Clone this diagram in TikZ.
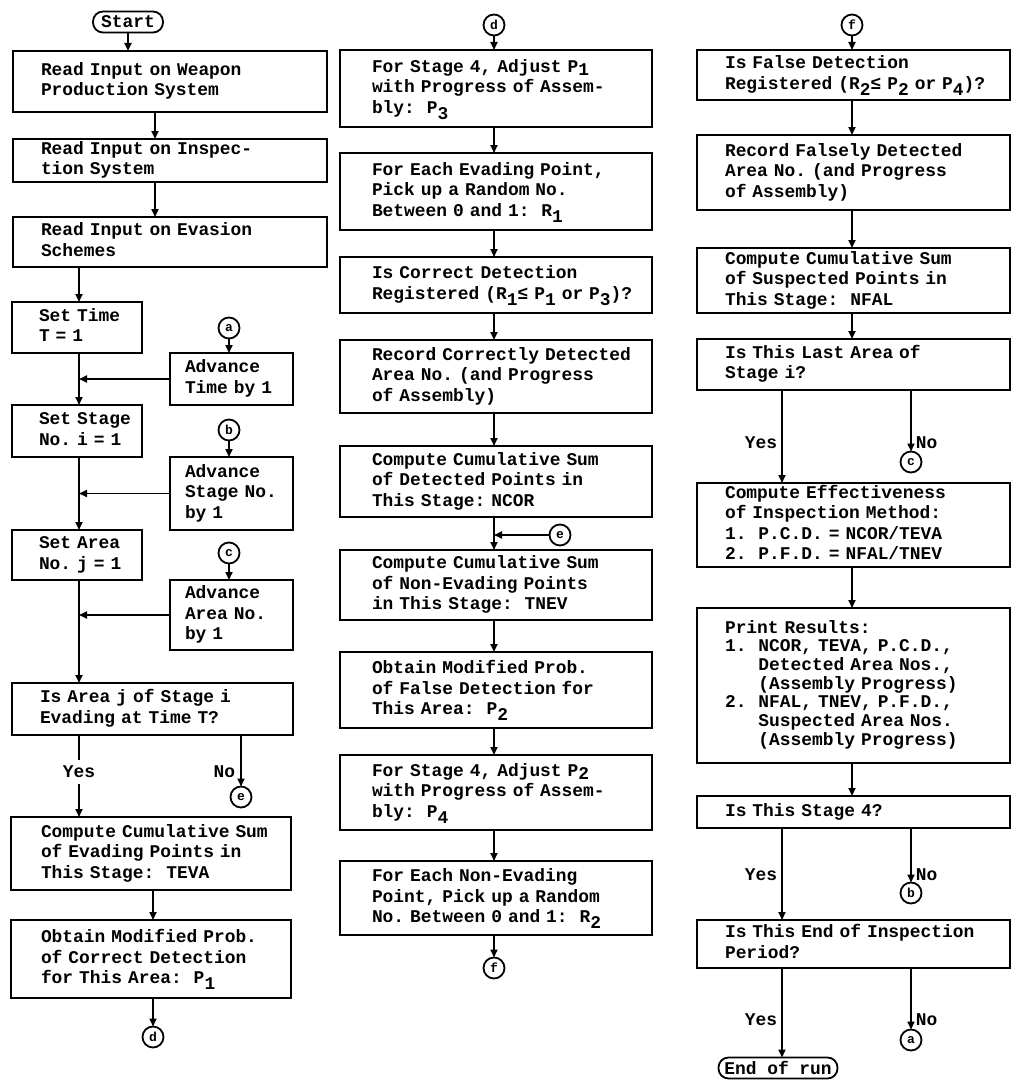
\documentclass[tikz,border=0pt]{standalone}
\usepackage{fontspec}
\setmainfont{Liberation Mono}
\usetikzlibrary{arrows.meta}
\frenchspacing
\newcommand\sbx[1]{\raisebox{-6pt}[0pt][0pt]{#1}}
\newcommand\sbh[1]{\raisebox{-3pt}[0pt][0pt]{#1}}
\newcommand\tb[1]{\begin{tabular}{@{}l@{}}#1\end{tabular}}
\newcommand\tabind{\phantom{1.\ \ }}
\begin{document}
\begin{tikzpicture}[x=1pt,y=-1pt,line width=1.8pt,
  txt/.style={font=\bfseries\fontsize{17.9}{20.5}\selectfont},
  bx/.style={txt,draw,rectangle,anchor=north west,inner ysep=0pt,outer sep=0pt,align=left},
  wl/.style={minimum width=314pt,text width=258pt,inner xsep=28pt},
  ws/.style={minimum width=130pt,text width=76pt,inner xsep=27pt},
  wa/.style={minimum width=123pt,text width=93pt,inner xsep=15pt},
  wi/.style={minimum width=281pt,text width=225pt,inner xsep=28pt},
  wt/.style={minimum width=280pt,text width=220pt,inner xsep=30pt},
  wm/.style={minimum width=312pt,text width=248pt,inner xsep=32pt},
  wr/.style={minimum width=313pt,text width=257pt,inner xsep=28pt},
  cn/.style={draw,circle,minimum size=21pt,inner sep=0pt,outer sep=0pt,font=\bfseries\fontsize{13}{13}\selectfont},
  term/.style={txt,draw,rectangle,rounded corners=10pt,inner sep=0pt,outer sep=0pt},
  arr/.style={-{Triangle[length=8pt,width=7pt]}},
  lbl/.style={txt,inner sep=1pt}]
\useasboundingbox (0,0) rectangle (1013,1081);
% guide x coordinates
\coordinate (xa) at (155,0);
\coordinate (xb) at (79,0);
\coordinate (xc) at (153,0);
\coordinate (xm) at (494,0);
\coordinate (xr) at (852,0);
\coordinate (xy) at (782,0);
\coordinate (xn) at (911,0);
% ---------- left column ----------
\node[term,minimum width=70pt,minimum height=21pt] (start) at (128,22) {Start};
\node[bx,wl,minimum height=61pt] (b1) at (13,51) {\tb{Read Input on Weapon\\Production System}};
\node[bx,wl,minimum height=43pt] (b2) at (13,139) {\tb{Read Input on Inspec-\\tion System}};
\node[bx,wl,minimum height=50pt] (b3) at (13,217) {\tb{Read Input on Evasion\\Schemes}};
\node[bx,ws,minimum height=51pt] (st) at (12,302) {\tb{Set Time\\T = 1}};
\node[cn] (ca) at (229,328) {a};
\node[bx,wa,minimum height=52pt] (at) at (170,353) {\tb{Advance\\Time by 1}};
\node[bx,ws,minimum height=52pt] (ss) at (12,405) {\tb{Set Stage\\No. i = 1}};
\node[cn] (cb) at (229,430) {b};
\node[bx,wa,minimum height=73pt] (as) at (170,457) {\tb{Advance\\Stage No.\\by 1}};
\node[bx,ws,minimum height=50pt] (sa) at (12,530) {\tb{Set Area\\No. j = 1}};
\node[cn] (cc) at (229,553) {c};
\node[bx,wa,minimum height=70pt] (aa) at (170,580) {\tb{Advance\\Area No.\\by 1}};
\node[bx,wi,minimum height=52pt] (ia) at (12,683) {\tb{Is Area j of Stage i\\Evading at Time T?}};
\node[cn] (ce) at (241,797) {e};
\node[bx,wt,minimum height=73pt] (teva) at (11,817) {\tb{Compute Cumulative Sum\\of Evading Points in\\This Stage:\ \ TEVA}};
\node[bx,wt,minimum height=78pt] (ob) at (11,920) {\tb{Obtain Modified Prob.\\of Correct Detection\\for This Area:\ \ P\sbx{1}}};
\node[cn] (cd) at (153,1037) {d};
% ---------- middle column ----------
\node[cn] (cd2) at (494,25) {d};
\node[bx,wm,minimum height=77pt] (m1) at (340,50) {\tb{For Stage 4, Adjust P\sbh{1}\\with Progress of Assem-\\bly:\ \ P\sbx{3}}};
\node[bx,wm,minimum height=77pt] (m2) at (340,153) {\tb{For Each Evading Point,\\Pick up a Random No.\\Between 0 and 1:\ \ R\sbx{1}}};
\node[bx,wm,minimum height=56pt] (m3) at (340,257) {\tb{Is Correct Detection\\Registered (R\sbx{1}≤ P\sbx{1} or P\sbx{3})?}};
\node[bx,wm,minimum height=73pt] (m4) at (340,340) {\tb{Record Correctly Detected\\Area No. (and Progress\\of Assembly)}};
\node[bx,wm,minimum height=71pt] (m5) at (340,446) {\tb{Compute Cumulative Sum\\of Detected Points in\\This Stage: NCOR}};
\node[cn] (ce2) at (560,535) {e};
\node[bx,wm,minimum height=70pt] (m6) at (340,550) {\tb{Compute Cumulative Sum\\of Non-Evading Points\\in This Stage:\ \ TNEV}};
\node[bx,wm,minimum height=76pt] (m7) at (340,652) {\tb{Obtain Modified Prob.\\of False Detection for\\This Area:\ \ P\sbx{2}}};
\node[bx,wm,minimum height=75pt] (m8) at (340,755) {\tb{For Stage 4, Adjust P\sbh{2}\\with Progress of Assem-\\bly:\ \ P\sbx{4}}};
\node[bx,wm,minimum height=74pt] (m9) at (340,861) {\tb{For Each Non-Evading\\Point, Pick up a Random\\No. Between 0 and 1:\ \ R\sbx{2}}};
\node[cn] (cf) at (494,968) {f};
% ---------- right column ----------
\node[cn] (cf2) at (852,25) {f};
\node[bx,wr,minimum height=50pt] (r1) at (697,50) {\tb{Is False Detection\\Registered (R\sbx{2}≤ P\sbx{2} or P\sbx{4})?}};
\node[bx,wr,minimum height=75pt] (r2) at (697,135) {\tb{Record Falsely Detected\\Area No. (and Progress\\of Assembly)}};
\node[bx,wr,minimum height=65pt] (r3) at (697,248) {\tb{Compute Cumulative Sum\\of Suspected Points in\\This Stage:\ \ NFAL}};
\node[bx,wr,minimum height=51pt] (r4) at (697,339) {\tb{Is This Last Area of\\Stage i?}};
\node[cn] (cc2) at (911,462) {c};
\node[bx,wr,minimum height=84pt] (r5) at (697,483) {\tb{Compute Effectiveness\\of Inspection Method:\\1.\ \ P.C.D. = NCOR/TEVA\\2.\ \ P.F.D. = NFAL/TNEV}};
\node[bx,wr,minimum height=155pt] (r6) at (697,608) {\renewcommand\arraystretch{0.91}\tb{Print Results:\\1.\ \ NCOR, TEVA, P.C.D.,\\\tabind Detected Area Nos.,\\\tabind (Assembly Progress)\\2.\ \ NFAL, TNEV, P.F.D.,\\\tabind Suspected Area Nos.\\\tabind (Assembly Progress)}};
\node[bx,wr,minimum height=32pt] (r7) at (697,796) {\tb{Is This Stage 4?}};
\node[cn] (cb2) at (911,893) {b};
\node[bx,wr,minimum height=48pt] (r8) at (697,920) {\tb{Is This End of Inspection\\Period?}};
\node[cn] (ca2) at (911,1040) {a};
\node[term,minimum width=119pt,minimum height=21pt] (end) at (778,1068) {End of run};
% ---------- connectors: left ----------
\draw[arr] (start.south) -- (start.south |- b1.north);
\draw[arr] (b1.south -| xa) -- (b2.north -| xa);
\draw[arr] (b2.south -| xa) -- (b3.north -| xa);
\draw[arr] (b3.south -| xb) -- (st.north -| xb);
\draw[arr] (st.south -| xb) -- (ss.north -| xb);
\draw[arr] (ca.south) -- (at.north -| ca);
\draw[arr] (at.west) -- (at.west -| xb);
\draw[arr] (ss.south -| xb) -- (sa.north -| xb);
\draw[arr] (cb.south) -- (as.north -| cb);
\draw[arr] (as.west) -- (as.west -| xb);
\draw[arr] (sa.south -| xb) -- (ia.north -| xb);
\draw[arr] (cc.south) -- (aa.north -| cc);
\draw[arr] (aa.west) -- (aa.west -| xb);
\draw[arr] (ia.south -| xb) -- (teva.north -| xb);
\node[lbl,fill=white,inner ysep=6pt] (yes1) at (79,772) {Yes};
\draw[arr] (ia.south -| ce) -- (ce.north);
\node[lbl,anchor=east] (no1) at (237,772) {No};
\draw[arr] (teva.south -| xc) -- (ob.north -| xc);
\draw[arr] (ob.south -| cd) -- (cd.north);
% ---------- connectors: middle ----------
\draw[arr] (cd2.south) -- (m1.north -| cd2);
\draw[arr] (m1.south -| xm) -- (m2.north -| xm);
\draw[arr] (m2.south -| xm) -- (m3.north -| xm);
\draw[arr] (m3.south -| xm) -- (m4.north -| xm);
\draw[arr] (m4.south -| xm) -- (m5.north -| xm);
\draw[arr] (m5.south -| xm) -- (m6.north -| xm);
\draw[arr] (ce2.west) -- (ce2.west -| xm);
\draw[arr] (m6.south -| xm) -- (m7.north -| xm);
\draw[arr] (m7.south -| xm) -- (m8.north -| xm);
\draw[arr] (m8.south -| xm) -- (m9.north -| xm);
\draw[arr] (m9.south -| cf) -- (cf.north);
% ---------- connectors: right ----------
\draw[arr] (cf2.south) -- (r1.north -| cf2);
\draw[arr] (r1.south -| xr) -- (r2.north -| xr);
\draw[arr] (r2.south -| xr) -- (r3.north -| xr);
\draw[arr] (r3.south -| xr) -- (r4.north -| xr);
\draw[arr] (r4.south -| xy) -- (r5.north -| xy);
\draw[arr] (r4.south -| cc2) -- (cc2.north);
\node[lbl,anchor=east] (yes2) at (779,443) {Yes};
\node[lbl,anchor=west] (no2) at (914,443) {No};
\draw[arr] (r5.south -| xr) -- (r6.north -| xr);
\draw[arr] (r6.south -| xr) -- (r7.north -| xr);
\draw[arr] (r7.south -| xy) -- (r8.north -| xy);
\draw[arr] (r7.south -| cb2) -- (cb2.north);
\node[lbl,anchor=east] (yes3) at (779,875) {Yes};
\node[lbl,anchor=west] (no3) at (914,875) {No};
\draw[arr] (r8.south -| xy) -- (end.north -| xy);
\draw[arr] (r8.south -| ca2) -- (ca2.north);
\node[lbl,anchor=east] (yes4) at (779,1020) {Yes};
\node[lbl,anchor=west] (no4) at (914,1020) {No};
\end{tikzpicture}
\end{document}
